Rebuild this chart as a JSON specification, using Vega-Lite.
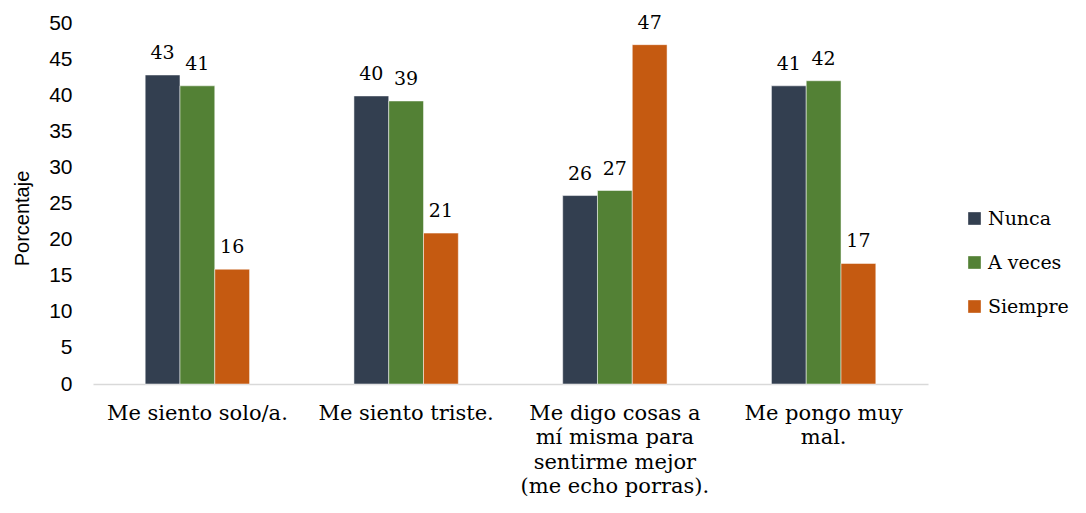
{
  "$schema": "https://vega.github.io/schema/vega-lite/v6.json",
  "width": 835,
  "height": 361,
  "autosize": {"type": "none"},
  "padding": {"left": 93, "top": 23, "right": 158, "bottom": 129},
  "background": "white",
  "view": {"stroke": null},
  "data": {
    "values": [
      {"cat": "Me siento solo/a.", "serie": "Nunca", "valor": 42.8},
      {"cat": "Me siento solo/a.", "serie": "A veces", "valor": 41.3},
      {"cat": "Me siento solo/a.", "serie": "Siempre", "valor": 15.9},
      {"cat": "Me siento triste.", "serie": "Nunca", "valor": 39.9},
      {"cat": "Me siento triste.", "serie": "A veces", "valor": 39.2},
      {"cat": "Me siento triste.", "serie": "Siempre", "valor": 20.9},
      {"cat": "Me digo cosas a|mí misma para|sentirme mejor|(me echo porras).", "serie": "Nunca", "valor": 26.1},
      {"cat": "Me digo cosas a|mí misma para|sentirme mejor|(me echo porras).", "serie": "A veces", "valor": 26.8},
      {"cat": "Me digo cosas a|mí misma para|sentirme mejor|(me echo porras).", "serie": "Siempre", "valor": 47.0},
      {"cat": "Me pongo muy|mal.", "serie": "Nunca", "valor": 41.3},
      {"cat": "Me pongo muy|mal.", "serie": "A veces", "valor": 42.0},
      {"cat": "Me pongo muy|mal.", "serie": "Siempre", "valor": 16.7}
    ]
  },
  "encoding": {
    "x": {
      "field": "cat",
      "type": "nominal",
      "sort": null,
      "scale": {"paddingInner": 0.5, "paddingOuter": 0.25},
      "axis": {
        "title": null,
        "labelAngle": 0,
        "labelExpr": "split(datum.label, '|')",
        "labelFont": "DejaVu Serif",
        "labelFontSize": 21,
        "labelColor": "#000000",
        "labelLineHeight": 24.5,
        "labelPadding": 18,
        "labelBaseline": "top",
        "labelLimit": 250,
        "ticks": false,
        "domainColor": "#d9d9d9",
        "domainWidth": 1.5
      }
    },
    "xOffset": {"field": "serie", "type": "nominal", "sort": ["Nunca", "A veces", "Siempre"]},
    "y": {
      "field": "valor",
      "type": "quantitative",
      "scale": {"domain": [0, 50]},
      "axis": {
        "title": "Porcentaje",
        "titleFont": "Liberation Sans",
        "titleFontSize": 20,
        "titleFontWeight": "normal",
        "titleColor": "#000000",
        "titlePadding": 16,
        "titleY": 195,
        "values": [0, 5, 10, 15, 20, 25, 30, 35, 40, 45, 50],
        "labelFont": "Liberation Sans",
        "labelFontSize": 21,
        "labelColor": "#000000",
        "labelPadding": 21,
        "ticks": false,
        "domain": false,
        "grid": false
      }
    }
  },
  "layer": [
    {
      "mark": {"type": "bar", "stroke": "white", "strokeWidth": 0.5},
      "encoding": {
        "color": {
          "field": "serie",
          "type": "nominal",
          "sort": ["Nunca", "A veces", "Siempre"],
          "scale": {"domain": ["Nunca", "A veces", "Siempre"], "range": ["#333F50", "#538135", "#C55A11"]},
          "legend": {
            "title": null,
            "orient": "none",
            "legendX": 872,
            "legendY": 186,
            "symbolType": "square",
            "symbolSize": 160,
            "symbolStrokeWidth": 0,
            "labelFont": "DejaVu Serif",
            "labelFontSize": 19,
            "labelColor": "#000000",
            "labelOffset": 4,
            "rowPadding": 24
          }
        }
      }
    },
    {
      "mark": {"type": "text", "dy": -12, "font": "DejaVu Serif", "fontSize": 19, "color": "#000000", "baseline": "bottom"},
      "encoding": {
        "text": {"field": "valor", "type": "quantitative", "format": ".0f"}
      }
    }
  ]
}
